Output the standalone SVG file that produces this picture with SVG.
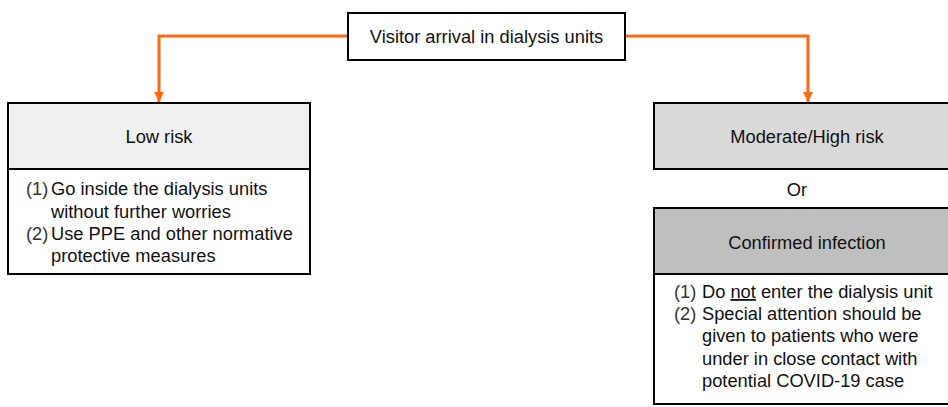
<svg xmlns="http://www.w3.org/2000/svg" width="948" height="407" viewBox="0 0 948 407">
<defs>
<style>
text{font-family:"Liberation Sans",Arial,sans-serif;font-size:18.3px;fill:#111}
.c{text-anchor:middle}
.n{fill:#333}
.box{stroke:#000;stroke-width:2}
.conn{fill:none;stroke:#ff6a10;stroke-width:3}
</style>
<marker id="ah" viewBox="0 0 10 10" refX="10" refY="5" markerWidth="3.3" markerHeight="3.3" orient="auto" markerUnits="strokeWidth">
<path d="M0,0 L10,5 L0,10 z" fill="#ff6a10"/>
</marker>
</defs>
<rect width="948" height="407" fill="#fff"/>
<g id="connectors">
<path class="conn" d="M347,36 H159 V102" marker-end="url(#ah)"/>
<path class="conn" d="M625,36 H808 V102" marker-end="url(#ah)"/>
</g>
<g id="visitor">
<rect class="box" x="348" y="13" width="277" height="47" fill="#fff"/>
<text class="c" x="486.5" y="43" font-size="18.5">Visitor arrival in dialysis units</text>
</g>
<g id="low-risk">
<rect class="box" x="8" y="103" width="302" height="66" fill="#f0f0f0"/>
<text class="c" x="159" y="143">Low risk</text>
<rect class="box" x="8" y="169" width="302" height="105" fill="#fff"/>
<text class="n" x="26" y="195">(1)</text>
<text x="51" y="195">Go inside the dialysis units</text>
<text x="51" y="218">without further worries</text>
<text class="n" x="26" y="240">(2)</text>
<text x="51" y="240">Use PPE and other normative</text>
<text x="51" y="262">protective measures</text>
</g>
<g id="moderate-high">
<rect class="box" x="654" y="103" width="310" height="66" fill="#d9d9d9"/>
<text class="c" x="807" y="143">Moderate/High risk</text>
</g>
<g id="or">
<text class="c" x="797" y="196">Or</text>
</g>
<g id="confirmed">
<rect class="box" x="654" y="208" width="310" height="66" fill="#bfbfbf"/>
<text class="c" x="807" y="249">Confirmed infection</text>
<rect class="box" x="654" y="274" width="310" height="130" fill="#fff"/>
<text class="n" x="674" y="298">(1)</text>
<text x="702" y="298">Do <tspan text-decoration="underline">not</tspan> enter the dialysis unit</text>
<text class="n" x="674" y="320">(2)</text>
<text x="702" y="320">Special attention should be</text>
<text x="702" y="342">given to patients who were</text>
<text x="702" y="365">under in close contact with</text>
<text x="702" y="387">potential COVID-19 case</text>
</g>
</svg>
